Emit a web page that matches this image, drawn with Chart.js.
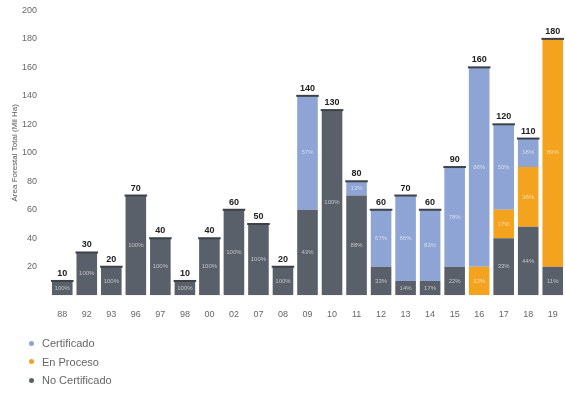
<!DOCTYPE html>
<html>
<head>
<meta charset="utf-8">
<script src="https://cdn.jsdelivr.net/npm/chart.js@4/dist/chart.umd.min.js"></script>
<style>
  html, body { margin: 0; padding: 0; background: #fff; }
  #wrap { position: relative; width: 565px; height: 394px; overflow: hidden; }
  #chart { position: absolute; left: 0; top: 0; }
  #legend { position: absolute; left: 29px; top: 334px; font-family: "Liberation Sans", Arial, sans-serif; font-size: 11px; color: #666; }
  #legend div { height: 18.5px; line-height: 14px; display: flex; align-items: center; }
  #legend span.dot { display: inline-block; width: 5px; height: 5px; border-radius: 50%; margin-right: 8px; }
</style>
</head>
<body>
<div id="wrap">
  <canvas id="chart" width="565" height="394"></canvas>
  <div id="legend"></div>
</div>
<script>
// Temporadas (años) del eje horizontal
const years = ['88','92','93','96','97','98','00','02','07','08','09','10','11','12','13','14','15','16','17','18','19'];

// Área por estado de certificación (Mil Ha)
const noCertificado = [10, 30, 20, 70, 40, 10, 40, 60, 50, 20, 60, 130, 70, 20, 10, 10, 20, 0, 40, 48, 20];
const enProceso     = [0, 0, 0, 0, 0, 0, 0, 0, 0, 0, 0, 0, 0, 0, 0, 0, 0, 20, 20, 42, 160];
const certificado   = [0, 0, 0, 0, 0, 0, 0, 0, 0, 0, 80, 0, 10, 40, 60, 50, 70, 140, 60, 20, 0];

const yTicks = [20, 40, 60, 80, 100, 120, 140, 160, 180, 200];

const COLORS = {
  cert: '#8ea4d4',
  proc: '#f4a31f',
  noCert: '#596069'
};

const totals = years.map((_, i) => noCertificado[i] + enProceso[i] + certificado[i]);

// Totales sobre cada columna, con una línea de remate, y porcentajes dentro de cada tramo
const stackLabels = {
  id: 'stackLabels',
  afterDatasetsDraw(chart) {
    const { ctx, scales } = chart;
    const x = scales.x, y = scales.y;
    const meta0 = chart.getDatasetMeta(0);
    ctx.save();
    years.forEach((yr, i) => {
      const bar = meta0.data[i];
      const w = bar.width;
      const cx = x.getPixelForValue(i);
      const top = y.getPixelForValue(totals[i]);
      // remate
      ctx.strokeStyle = '#3d4249';
      ctx.lineWidth = 2;
      ctx.beginPath();
      ctx.moveTo(cx - w / 2 - 1, top);
      ctx.lineTo(cx + w / 2 + 1, top);
      ctx.stroke();
      // total
      ctx.fillStyle = '#222';
      ctx.font = 'bold 9px "Liberation Sans", Arial, sans-serif';
      ctx.textAlign = 'center';
      ctx.textBaseline = 'bottom';
      ctx.fillText(String(totals[i]), cx, top - 3);
    });
    // porcentajes
    ctx.font = '6px "Liberation Sans", Arial, sans-serif';
    ctx.textBaseline = 'middle';
    ctx.fillStyle = 'rgba(255,255,255,0.6)';
    chart.data.datasets.forEach((ds, di) => {
      const meta = chart.getDatasetMeta(di);
      ds.data.forEach((v, i) => {
        if (!v) return;
        const el = meta.data[i];
        const h = Math.abs(el.base - el.y);
        if (h < 9) return;
        const pct = Math.round(v / totals[i] * 100) + '%';
        ctx.fillText(pct, el.x, (el.y + el.base) / 2);
      });
    });
    ctx.restore();
  }
};

const chart = new Chart(document.getElementById('chart'), {
  type: 'bar',
  data: {
    labels: years,
    datasets: [
      { label: 'No Certificado', data: noCertificado, backgroundColor: COLORS.noCert, stack: 's' },
      { label: 'En Proceso', data: enProceso, backgroundColor: COLORS.proc, stack: 's' },
      { label: 'Certificado', data: certificado, backgroundColor: COLORS.cert, stack: 's' }
    ]
  },
  options: {
    responsive: false,
    animation: false,
    layout: { padding: { top: 0, right: 0, bottom: 68, left: 10 } },
    plugins: {
      legend: { display: false },
      tooltip: { enabled: false }
    },
    datasets: { bar: { categoryPercentage: 1, barPercentage: 0.84 } },
    scales: {
      x: {
        stacked: true,
        grid: { display: false },
        border: { display: false },
        ticks: {
          color: '#666',
          font: { size: 9, family: '"Liberation Sans", Arial, sans-serif' },
          padding: 6,
          maxRotation: 0,
          autoSkip: false
        }
      },
      y: {
        stacked: true,
        min: 0,
        max: 200,
        grid: { display: false },
        border: { display: false },
        afterBuildTicks(scale) {
          scale.ticks = yTicks.map(v => ({ value: v }));
        },
        afterFit(scale) { scale.width = 40; },
        ticks: {
          color: '#666',
          font: { size: 9, family: '"Liberation Sans", Arial, sans-serif' },
          padding: 5
        },
        title: {
          display: true,
          text: 'Área Forestal Total (Mil Ha)',
          color: '#555',
          font: { size: 8, family: '"Liberation Sans", Arial, sans-serif' },
          padding: 0
        }
      }
    }
  },
  plugins: [stackLabels]
});

// Leyenda en columna
const legendItems = [
  ['Certificado', COLORS.cert],
  ['En Proceso', COLORS.proc],
  ['No Certificado', COLORS.noCert]
];
const legend = document.getElementById('legend');
legendItems.forEach(([name, color]) => {
  const row = document.createElement('div');
  const dot = document.createElement('span');
  dot.className = 'dot';
  dot.style.background = color;
  row.appendChild(dot);
  row.appendChild(document.createTextNode(name));
  legend.appendChild(row);
});
</script>
</body>
</html>
